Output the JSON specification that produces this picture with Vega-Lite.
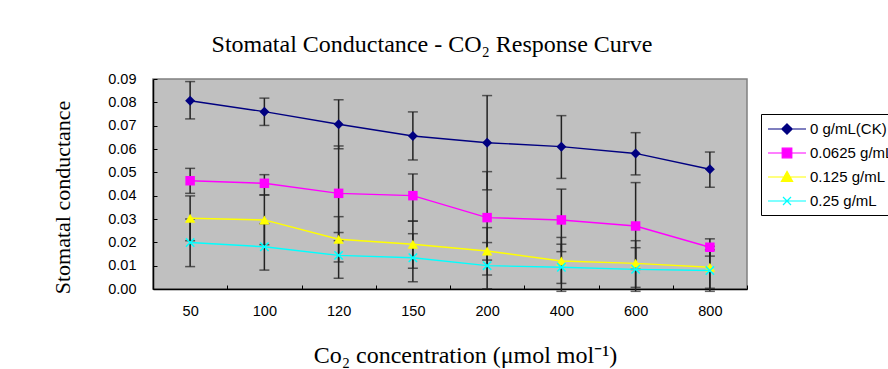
{
  "$schema": "https://vega.github.io/schema/vega-lite/v6.json",
  "width": 594,
  "height": 210,
  "autosize": {"type": "none"},
  "padding": {"left": 153, "top": 79, "right": 141, "bottom": 80},
  "background": "white",
  "title": {"text": "Stomatal Conductance - CO₂ Response Curve", "font": "Liberation Serif", "fontSize": 24, "fontWeight": "normal", "color": "black", "offset": 14, "dx": -18},
  "config": {
    "view": {"fill": "#C0C0C0", "stroke": "#808080", "strokeWidth": 1.5},
    "axis": {"labelFont": "Liberation Sans", "labelFontSize": 14.5, "labelColor": "black", "titleFont": "Liberation Serif", "titleFontSize": 22, "titleFontWeight": "normal", "titleColor": "black", "domainColor": "black", "domainWidth": 1.5, "tickColor": "black", "tickSize": -4, "tickWidth": 1, "grid": false},
    "legend": {"orient": "none", "legendX": 608, "legendY": 35, "strokeColor": "black", "fillColor": "white", "padding": 6, "labelFont": "Liberation Sans", "labelFontSize": 15, "labelColor": "black", "symbolSize": 256, "symbolStrokeWidth": 1.2, "symbolOffset": 11, "labelOffset": 14, "rowPadding": 7, "symbolOpacity": 1}
  },
  "data": {"values": [
    {"s": "0 g/mL(CK)", "c": "50", "m": 0.0807, "lo": 0.0729, "hi": 0.0889},
    {"s": "0 g/mL(CK)", "c": "100", "m": 0.0760, "lo": 0.0701, "hi": 0.0818},
    {"s": "0 g/mL(CK)", "c": "120", "m": 0.0706, "lo": 0.0601, "hi": 0.0811},
    {"s": "0 g/mL(CK)", "c": "150", "m": 0.0656, "lo": 0.0553, "hi": 0.0759},
    {"s": "0 g/mL(CK)", "c": "200", "m": 0.0627, "lo": 0.0425, "hi": 0.0829},
    {"s": "0 g/mL(CK)", "c": "400", "m": 0.0610, "lo": 0.0474, "hi": 0.0743},
    {"s": "0 g/mL(CK)", "c": "600", "m": 0.0581, "lo": 0.0489, "hi": 0.0670},
    {"s": "0 g/mL(CK)", "c": "800", "m": 0.0513, "lo": 0.0436, "hi": 0.0587},
    {"s": "0.0625 g/mL", "c": "50", "m": 0.0464, "lo": 0.0410, "hi": 0.0517},
    {"s": "0.0625 g/mL", "c": "100", "m": 0.0453, "lo": 0.0403, "hi": 0.0490},
    {"s": "0.0625 g/mL", "c": "120", "m": 0.0410, "lo": 0.0207, "hi": 0.0613},
    {"s": "0.0625 g/mL", "c": "150", "m": 0.0400, "lo": 0.0291, "hi": 0.0493},
    {"s": "0.0625 g/mL", "c": "200", "m": 0.0306, "lo": 0.0124, "hi": 0.0503},
    {"s": "0.0625 g/mL", "c": "400", "m": 0.0296, "lo": 0.0160, "hi": 0.0428},
    {"s": "0.0625 g/mL", "c": "600", "m": 0.0270, "lo": 0.0084, "hi": 0.0456},
    {"s": "0.0625 g/mL", "c": "800", "m": 0.0179, "lo": 0.0141, "hi": 0.0215},
    {"s": "0.125 g/mL", "c": "50", "m": 0.0303, "lo": 0.0207, "hi": 0.0399},
    {"s": "0.125 g/mL", "c": "100", "m": 0.0296, "lo": 0.0190, "hi": 0.0403},
    {"s": "0.125 g/mL", "c": "120", "m": 0.0213, "lo": 0.0116, "hi": 0.0310},
    {"s": "0.125 g/mL", "c": "150", "m": 0.0192, "lo": 0.0089, "hi": 0.0291},
    {"s": "0.125 g/mL", "c": "200", "m": 0.0163, "lo": 0.0060, "hi": 0.0263},
    {"s": "0.125 g/mL", "c": "400", "m": 0.0120, "lo": 0.0024, "hi": 0.0221},
    {"s": "0.125 g/mL", "c": "600", "m": 0.0110, "lo": 0.0007, "hi": 0.0207},
    {"s": "0.125 g/mL", "c": "800", "m": 0.0093, "lo": 0.0003, "hi": 0.0183},
    {"s": "0.25 g/mL", "c": "50", "m": 0.0199, "lo": 0.0096, "hi": 0.0300},
    {"s": "0.25 g/mL", "c": "100", "m": 0.0181, "lo": 0.0081, "hi": 0.0280},
    {"s": "0.25 g/mL", "c": "120", "m": 0.0144, "lo": 0.0046, "hi": 0.0242},
    {"s": "0.25 g/mL", "c": "150", "m": 0.0134, "lo": 0.0031, "hi": 0.0237},
    {"s": "0.25 g/mL", "c": "200", "m": 0.0100, "lo": 0.0001, "hi": 0.0199},
    {"s": "0.25 g/mL", "c": "400", "m": 0.0093, "lo": -0.0010, "hi": 0.0192},
    {"s": "0.25 g/mL", "c": "600", "m": 0.0084, "lo": -0.0010, "hi": 0.0177},
    {"s": "0.25 g/mL", "c": "800", "m": 0.0079, "lo": -0.0010, "hi": 0.0168}
  ]},
  "encoding": {
    "x": {"field": "c", "type": "ordinal", "sort": ["50", "100", "120", "150", "200", "400", "600", "800"], "scale": {"type": "band", "paddingInner": 0, "paddingOuter": 0},
      "axis": {"title": "Co₂ concentration (μmol mol⁻¹)", "labelAngle": 0, "tickBand": "extent", "labelPadding": 19, "titleX": 312, "titleY": 66, "titleBaseline": "middle", "titleAlign": "center", "titleFontSize": 24}},
    "y": {"field": "m", "type": "quantitative", "scale": {"domain": [0, 0.09], "nice": false, "zero": false},
      "axis": {"title": "Stomatal conductance", "values": [0, 0.01, 0.02, 0.03, 0.04, 0.05, 0.06, 0.07, 0.08, 0.09], "format": ".2f", "labelPadding": 21, "titleX": -91, "titleY": 118, "titleAngle": -90, "titleBaseline": "middle", "titleAlign": "center"}}
  },
  "layer": [
    {
      "mark": {"type": "point", "filled": true, "opacity": 0},
      "encoding": {
        "fill": {"field": "s", "type": "nominal", "scale": {"domain": ["0 g/mL(CK)", "0.0625 g/mL", "0.125 g/mL", "0.25 g/mL"], "range": ["#000080", "#FF00FF", "#FFFF00", "#00FFFF"]}, "legend": {"title": null}},
        "stroke": {"field": "s", "type": "nominal", "scale": {"domain": ["0 g/mL(CK)", "0.0625 g/mL", "0.125 g/mL", "0.25 g/mL"], "range": ["#000080", "#FF00FF", "#FFFF00", "#00FFFF"]}, "legend": {"title": null}},
        "shape": {"field": "s", "type": "nominal", "scale": {"domain": ["0 g/mL(CK)", "0.0625 g/mL", "0.125 g/mL", "0.25 g/mL"], "range": ["M-2.375,0H2.375M0,-0.65L0.65,0L0,0.65L-0.65,0Z", "M-2.375,0H2.375M-0.6,-0.6H0.6V0.6H-0.6Z", "M-2.375,0H2.375M0,-0.7L0.7,0.55H-0.7Z", "M-2.375,0H2.375M-0.5,-0.5L0.5,0.5M0.5,-0.5L-0.5,0.5"]}, "legend": {"title": null}}
      }
    },
    {
      "mark": {"type": "rule", "color": "#222222", "strokeWidth": 1.5},
      "encoding": {
        "y": {"field": "lo", "type": "quantitative", "scale": {"domain": [0, 0.09], "nice": false, "zero": false}, "axis": {"title": "Stomatal conductance", "values": [0, 0.01, 0.02, 0.03, 0.04, 0.05, 0.06, 0.07, 0.08, 0.09], "format": ".2f", "labelPadding": 21, "titleX": -91, "titleY": 118, "titleAngle": -90, "titleBaseline": "middle", "titleAlign": "center"}},
        "y2": {"field": "hi"}
      }
    },
    {
      "mark": {"type": "tick", "color": "#222222", "size": 10, "thickness": 1.5},
      "encoding": {
        "y": {"field": "lo", "type": "quantitative", "scale": {"domain": [0, 0.09], "nice": false, "zero": false}, "axis": {"title": "Stomatal conductance", "values": [0, 0.01, 0.02, 0.03, 0.04, 0.05, 0.06, 0.07, 0.08, 0.09], "format": ".2f", "labelPadding": 21, "titleX": -91, "titleY": 118, "titleAngle": -90, "titleBaseline": "middle", "titleAlign": "center"}}
      }
    },
    {
      "mark": {"type": "tick", "color": "#222222", "size": 10, "thickness": 1.5},
      "encoding": {
        "y": {"field": "hi", "type": "quantitative", "scale": {"domain": [0, 0.09], "nice": false, "zero": false}, "axis": {"title": "Stomatal conductance", "values": [0, 0.01, 0.02, 0.03, 0.04, 0.05, 0.06, 0.07, 0.08, 0.09], "format": ".2f", "labelPadding": 21, "titleX": -91, "titleY": 118, "titleAngle": -90, "titleBaseline": "middle", "titleAlign": "center"}}
      }
    },
    {
      "transform": [{"filter": "datum.s === '0 g/mL(CK)'"}],
      "layer": [
        {"mark": {"type": "line", "color": "#000080", "strokeWidth": 1.4}},
        {"mark": {"type": "point", "shape": "diamond", "filled": true, "color": "#000080", "size": 100, "opacity": 1}}
      ]
    },
    {
      "transform": [{"filter": "datum.s === '0.0625 g/mL'"}],
      "layer": [
        {"mark": {"type": "line", "color": "#FF00FF", "strokeWidth": 1.4}},
        {"mark": {"type": "point", "shape": "square", "filled": true, "color": "#FF00FF", "size": 90, "opacity": 1}}
      ]
    },
    {
      "transform": [{"filter": "datum.s === '0.125 g/mL'"}],
      "layer": [
        {"mark": {"type": "line", "color": "#FFFF00", "strokeWidth": 1.4}},
        {"mark": {"type": "point", "shape": "triangle-up", "filled": true, "color": "#FFFF00", "size": 110, "opacity": 1}}
      ]
    },
    {
      "transform": [{"filter": "datum.s === '0.25 g/mL'"}],
      "layer": [
        {"mark": {"type": "line", "color": "#00FFFF", "strokeWidth": 1.4}},
        {"mark": {"type": "point", "shape": "M-1,-1L1,1M1,-1L-1,1", "filled": false, "color": "#00FFFF", "strokeWidth": 1.5, "size": 70, "opacity": 1}}
      ]
    }
  ]
}
